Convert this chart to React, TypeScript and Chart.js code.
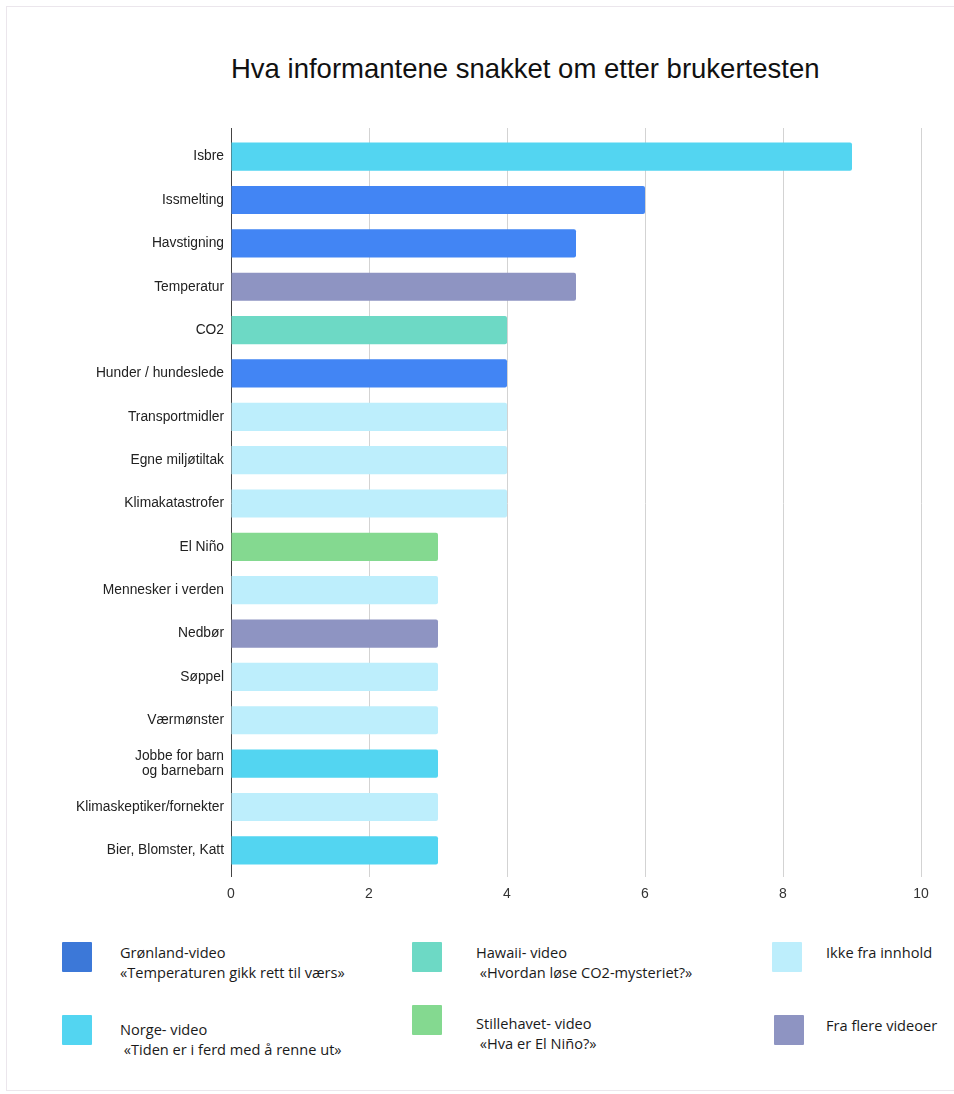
import React, { useEffect, useRef } from "react";
import { Chart, registerables } from "chart.js";

Chart.register(...registerables);

const categories: (string | string[])[] = [
  "Isbre",
  "Issmelting",
  "Havstigning",
  "Temperatur",
  "CO2",
  "Hunder / hundeslede",
  "Transportmidler",
  "Egne miljøtiltak",
  "Klimakatastrofer",
  "El Niño",
  "Mennesker i verden",
  "Nedbør",
  "Søppel",
  "Værmønster",
  ["Jobbe for barn", "og barnebarn"],
  "Klimaskeptiker/fornekter",
  "Bier, Blomster, Katt",
];

const counts = [9, 6, 5, 5, 4, 4, 4, 4, 4, 3, 3, 3, 3, 3, 3, 3, 3];

const sources = [
  "norge",
  "gronland",
  "gronland",
  "flere",
  "hawaii",
  "gronland",
  "ikke",
  "ikke",
  "ikke",
  "stillehavet",
  "ikke",
  "flere",
  "ikke",
  "ikke",
  "norge",
  "ikke",
  "norge",
];

const barColors: Record<string, string> = {
  gronland: "#4285f4",
  norge: "#53d5f1",
  hawaii: "#6dd9c5",
  stillehavet: "#84d990",
  ikke: "#bdeefc",
  flere: "#8e94c2",
};

const xTicks = [0, 2, 4, 6, 8, 10];

const title = "Hva informantene snakket om etter brukertesten";

const legendItems = [
  { color: "#3c78d8", lines: ["Grønland-video", "«Temperaturen gikk rett til værs»"], x: 62, y: 942, tx: 120, ty: 942 },
  { color: "#53d5f1", lines: ["Norge- video", " «Tiden er i ferd med å renne ut»"], x: 62, y: 1015, tx: 120, ty: 1019 },
  { color: "#6dd9c5", lines: ["Hawaii- video", " «Hvordan løse CO2-mysteriet?»"], x: 412, y: 942, tx: 476, ty: 942 },
  { color: "#84d990", lines: ["Stillehavet- video", " «Hva er El Niño?»"], x: 412, y: 1005, tx: 476, ty: 1013 },
  { color: "#bdeefc", lines: ["Ikke fra innhold"], x: 772, y: 942, tx: 826, ty: 942 },
  { color: "#8e94c2", lines: ["Fra flere videoer"], x: 774, y: 1015, tx: 826, ty: 1015 },
];

const gridColor = (ctx: any) =>
  ctx.tick && ctx.tick.value === 0 ? "#444444" : "#d3d3d3";

export default function App() {
  const ref = useRef<HTMLCanvasElement | null>(null);

  useEffect(() => {
    if (!ref.current) return;
    const chart = new Chart(ref.current, {
      type: "bar",
      data: {
        labels: categories as any,
        datasets: [
          {
            data: counts,
            backgroundColor: sources.map((s) => barColors[s]),
            borderRadius: 2,
            barPercentage: 0.65,
            categoryPercentage: 1,
            xAxisID: "x",
          },
        ],
      },
      options: {
        indexAxis: "y",
        animation: false,
        responsive: false,
        devicePixelRatio: 1,
        layout: { padding: { top: 135, right: 33, bottom: 8, left: 0 } },
        plugins: {
          legend: { display: false },
          tooltip: { enabled: false },
          title: { display: false },
        },
        scales: {
          x: {
            type: "linear",
            position: "bottom",
            min: 0,
            max: 10,
            afterBuildTicks: (scale: any) => {
              scale.ticks = xTicks.map((v) => ({ value: v }));
            },
            afterFit: (scale: any) => {
              scale.height = 40;
            },
            grid: {
              color: gridColor,
              lineWidth: 1,
              drawTicks: true,
              tickLength: 5,
            },
            border: { display: false },
            ticks: {
              padding: 9,
              color: "#333333",
              font: { family: "'Liberation Sans', Arial, sans-serif", size: 14 },
            },
          },
          x2: {
            type: "linear",
            position: "top",
            min: 0,
            max: 10,
            afterBuildTicks: (scale: any) => {
              scale.ticks = xTicks.map((v) => ({ value: v }));
            },
            afterFit: (scale: any) => {
              scale.height = 0;
            },
            grid: {
              color: gridColor,
              drawOnChartArea: false,
              drawTicks: true,
              tickLength: 7,
            },
            border: { display: false },
            ticks: { display: false },
          },
          y: {
            type: "category",
            afterFit: (scale: any) => {
              scale.width = 231;
            },
            grid: { display: false, drawTicks: false },
            border: { display: false },
            ticks: {
              padding: 7,
              color: "#222222",
              autoSkip: false,
              font: { family: "'Liberation Sans', Arial, sans-serif", size: 13.8, lineHeight: 1.1 },
            },
          },
        },
      } as any,
    });
    return () => chart.destroy();
  }, []);

  return (
    <div
      style={{
        position: "fixed",
        left: 0,
        top: 0,
        width: 954,
        height: 1094,
        overflow: "hidden",
        background: "#ffffff",
      }}
    >
      <div
        style={{
          position: "absolute",
          left: 6,
          top: 6,
          width: 1000,
          height: 1083,
          border: "1px solid #ebe6ec",
        }}
      />
      <div
        style={{
          position: "absolute",
          left: 231,
          top: 53,
          fontFamily: "'Liberation Sans', Arial, sans-serif",
          fontSize: 27.5,
          color: "#111111",
          whiteSpace: "nowrap",
          lineHeight: "32px",
        }}
      >
        {title}
      </div>
      <canvas
        ref={ref}
        width={954}
        height={920}
        style={{ position: "absolute", left: 0, top: 0, width: 954, height: 920 }}
      />
      {legendItems.map((it, i) => (
        <React.Fragment key={i}>
          <div
            style={{
              position: "absolute",
              left: it.x,
              top: it.y,
              width: 30,
              height: 30,
              background: it.color,
              borderRadius: 1,
            }}
          />
          <div
            style={{
              position: "absolute",
              left: it.tx,
              top: it.ty,
              fontFamily: "'Liberation Sans Narrow', 'Open Sans', sans-serif",
              fontSize: 14.6,
              lineHeight: "20px",
              color: "#1a1a1a",
              whiteSpace: "pre",
            }}
          >
            {it.lines.map((l, j) => (
              <div key={j}>{l}</div>
            ))}
          </div>
        </React.Fragment>
      ))}
    </div>
  );
}
